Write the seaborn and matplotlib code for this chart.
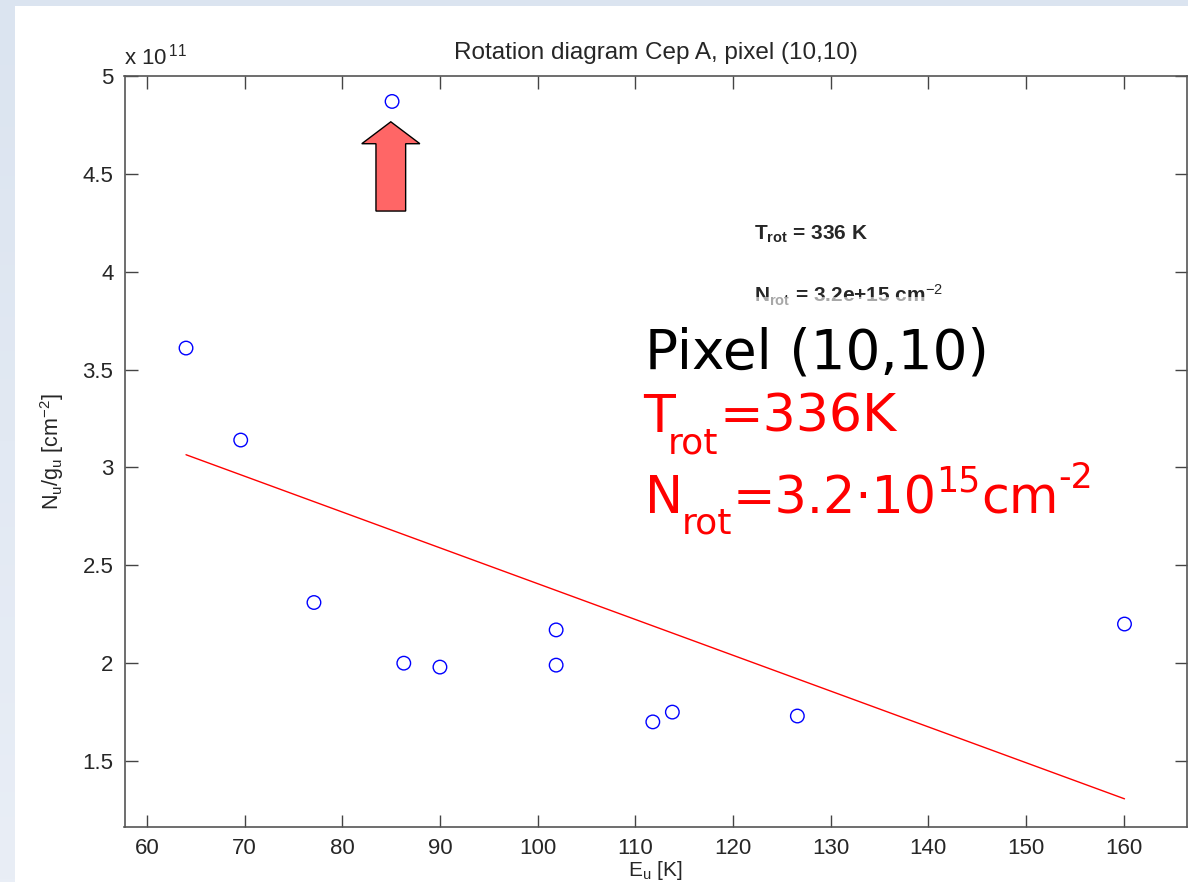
import matplotlib
matplotlib.use("Agg")
import matplotlib.pyplot as plt
from matplotlib.patches import Rectangle, FancyArrow
from matplotlib.transforms import IdentityTransform
import numpy as np
import seaborn as sns
import pandas as pd

# Upper-level energies E_u [K] and column densities N_u/g_u [1e11 cm^-2]
energy = [64.0, 69.6, 77.1, 85.1, 86.3, 90.0, 101.9, 101.9, 111.8, 113.8, 126.6, 160.1]
column = [3.61, 3.14, 2.31, 4.87, 2.00, 1.98, 2.17, 1.99, 1.70, 1.75, 1.73, 2.20]

# Fitted rotation-diagram line (end points)
fit_energy = [64.0, 160.1]
fit_column = [3.065, 1.307]

xticks = [60, 70, 80, 90, 100, 110, 120, 130, 140, 150, 160]
yticks = [1.5, 2, 2.5, 3, 3.5, 4, 4.5, 5]
ytick_labels = ["1.5", "2", "2.5", "3", "3.5", "4", "4.5", "5"]

sns.set_style("ticks")
plt.rcParams["font.family"] = ["Liberation Sans", "DejaVu Sans"]
plt.rcParams["mathtext.fontset"] = "custom"
plt.rcParams["mathtext.rm"] = "Liberation Sans"
plt.rcParams["mathtext.it"] = "Liberation Sans:italic"
plt.rcParams["mathtext.bf"] = "Liberation Sans:bold"

W, H = 1188, 882
fig = plt.figure(figsize=(W / 100, H / 100), dpi=100)

# slide background: pale blue frame with a soft vertical gradient
bg = fig.add_axes([0, 0, 1, 1], zorder=-10)
grad = np.linspace(0, 1, 256).reshape(-1, 1)
bg.imshow(grad, aspect="auto", cmap=matplotlib.colors.LinearSegmentedColormap.from_list(
    "slide", ["#dbe4f0", "#e9eef6"]), extent=[0, 1, 0, 1], origin="upper")
bg.add_patch(Rectangle((15 / W, 0), 1 - 15 / W, 1 - 6 / H, facecolor="white",
                       edgecolor="none"))
bg.set_xlim(0, 1)
bg.set_ylim(0, 1)
bg.axis("off")

ax = fig.add_axes([124.5 / W, 1 - 827 / H, (1187 - 124.5) / W, (827 - 76) / H])
ax.set_facecolor("white")

pts = pd.DataFrame({"E": energy, "N": column})
fit = pd.DataFrame({"E": fit_energy, "N": fit_column})

sns.lineplot(data=fit, x="E", y="N", ax=ax, color="red", linewidth=1.0, zorder=2)
sns.scatterplot(data=pts, x="E", y="N", ax=ax, marker="o", s=95,
                facecolors="none", edgecolor="blue", linewidth=1.0, zorder=3)

ax.set_xlim(57.7, 166.5)
ax.set_ylim(1.163, 5.0)
ax.set_xticks(xticks)
ax.set_xticklabels([str(t) for t in xticks])
ax.set_yticks(yticks)
ax.set_yticklabels(ytick_labels)

for s in ax.spines.values():
    s.set_color("#555555")
    s.set_linewidth(1.2)
ax.tick_params(direction="in", length=9, width=1.0, color="#444444",
               labelsize=16, top=True, right=True, pad=8)

ax.set_xlabel(r"E$_\mathrm{u}$ [K]", fontsize=15, labelpad=0)
ax.set_ylabel(r"N$_\mathrm{u}$/g$_\mathrm{u}$ [cm$^{-2}$]", fontsize=15.5, labelpad=12)
ax.set_title("Rotation diagram Cep A, pixel (10,10)", fontsize=17.5, pad=12)

# exponent of the y axis
ax.text(0.0, 1.008, r"x 10$^{\,11}$", transform=ax.transAxes, fontsize=16,
        ha="left", va="bottom")

# fit results
ax.text(122.2, 4.165, r"T$_\mathbf{rot}$ = 336 K", fontsize=15, fontweight="bold",
        ha="left", va="baseline")
ax.text(122.2, 3.845, r"N$_\mathbf{rot}$ = 3.2e+15 cm$^{-2}$", fontsize=15,
        fontweight="bold", ha="left", va="baseline")

# highlight of the outlier point
ax.add_patch(FancyArrow(84.97, 4.31, 0, 0.456, width=3.04, head_width=5.95,
                        head_length=0.112, length_includes_head=True,
                        facecolor="#ff6666", edgecolor="black", linewidth=1.0,
                        zorder=4))

# summary box
fig.add_artist(Rectangle((638 / W, 1 - 548 / H), 470 / W, (548 - 297) / H,
                         transform=fig.transFigure, facecolor="white",
                         edgecolor="none", alpha=0.6, zorder=5))

renderer = fig.canvas.get_renderer()


def text_run(x, y_top, pieces, color):
    """Draw a sequence of text pieces left to right on a common baseline.

    Each piece is (string, fontsize, vertical shift in px, gap before in px).
    """
    for s, size, dy, gap in pieces:
        t = fig.text(x + gap, H - (y_top + dy), s, fontsize=size, color=color,
                     family="DejaVu Sans", ha="left", va="baseline",
                     transform=IdentityTransform(), zorder=6)
        x = t.get_window_extent(renderer=renderer).x1


text_run(645, 368, [("Pixel (10,10)", 39.5, 0, 0)], "black")
text_run(643, 432, [("T", 37.5, 0, 0), ("rot", 26, 22, -7), ("=336K", 37.5, 0, 1)], "red")
text_run(645, 513, [("N", 36.5, 0, 0), ("rot", 26, 21, -1), ("=3.2·10", 36.5, 0, 0),
                    ("15", 25, -22, 0), ("cm", 36.5, 0, 0), ("-2", 25, -25, 0)], "red")

fig.savefig("out.png", dpi=100)
